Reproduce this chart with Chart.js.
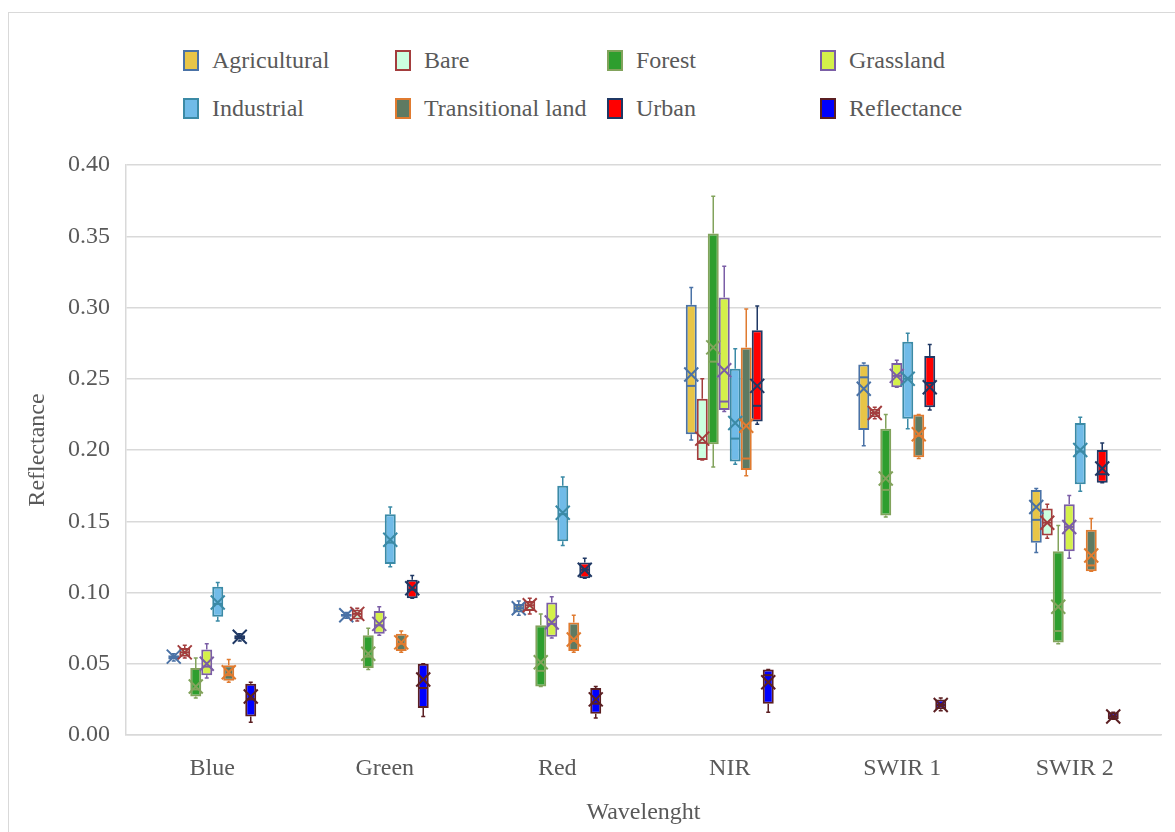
<!DOCTYPE html>
<html>
<head>
<meta charset="utf-8">
<script src="https://cdn.jsdelivr.net/npm/chart.js@4.4.1/dist/chart.umd.min.js"></script>
<style>
  body { margin: 0; background: #fff; }
  #wrap { position: relative; width: 1175px; height: 832px; overflow: hidden; }
  #frame { position: absolute; left: 8px; top: 12px; width: 1200px; height: 900px; border: 1px solid #d9d9d9; box-sizing: border-box; }
  #legend { position: absolute; left: 0; top: 0; width: 1175px; height: 140px; font-family: "Liberation Serif", "Times New Roman", serif; font-size: 24px; color: #595959; }
  .item { position: absolute; display: flex; align-items: center; height: 30px; white-space: nowrap; }
  .sw { width: 16px; height: 21px; box-sizing: border-box; border: 2px solid; margin-right: 13px; }
  canvas { position: absolute; left: 0; top: 0; }
</style>
</head>
<body>
<div id="wrap">
  <div id="frame"></div>
  <div id="legend"></div>
  <canvas id="chart" width="1175" height="832"></canvas>
</div>
<script>
// wavelength bands
const bands = ['Blue', 'Green', 'Red', 'NIR', 'SWIR 1', 'SWIR 2'];

// per band: [min, q1, median, q3, max, mean]
const agricultural = [
  [0.052, 0.053, 0.054, 0.056, 0.057, 0.055],
  [0.082, 0.083, 0.084, 0.085, 0.086, 0.084],
  [0.084, 0.086, 0.089, 0.092, 0.094, 0.089],
  [0.207, 0.211, 0.245, 0.302, 0.314, 0.253],
  [0.203, 0.214, 0.251, 0.260, 0.261, 0.243],
  [0.128, 0.135, 0.151, 0.172, 0.173, 0.160]
];
const bare = [
  [0.054, 0.055, 0.058, 0.061, 0.063, 0.058],
  [0.080, 0.081, 0.085, 0.088, 0.089, 0.085],
  [0.085, 0.087, 0.091, 0.094, 0.096, 0.091],
  [0.193, 0.193, 0.205, 0.236, 0.250, 0.208],
  [0.222, 0.223, 0.226, 0.229, 0.230, 0.226],
  [0.138, 0.140, 0.149, 0.159, 0.162, 0.149]
];
const forest = [
  [0.026, 0.027, 0.032, 0.047, 0.054, 0.034],
  [0.046, 0.047, 0.055, 0.070, 0.075, 0.057],
  [0.034, 0.034, 0.045, 0.077, 0.085, 0.051],
  [0.188, 0.204, 0.262, 0.352, 0.378, 0.272],
  [0.153, 0.154, 0.172, 0.215, 0.225, 0.180],
  [0.064, 0.065, 0.073, 0.129, 0.147, 0.090]
];
const grassland = [
  [0.040, 0.042, 0.048, 0.060, 0.064, 0.050],
  [0.070, 0.071, 0.077, 0.087, 0.090, 0.078],
  [0.068, 0.069, 0.078, 0.093, 0.097, 0.079],
  [0.227, 0.228, 0.234, 0.307, 0.329, 0.256],
  [0.244, 0.244, 0.252, 0.261, 0.263, 0.252],
  [0.124, 0.129, 0.146, 0.162, 0.168, 0.146]
];
const industrial = [
  [0.080, 0.083, 0.092, 0.104, 0.107, 0.093],
  [0.118, 0.120, 0.135, 0.155, 0.160, 0.137],
  [0.133, 0.136, 0.155, 0.175, 0.181, 0.156],
  [0.190, 0.192, 0.208, 0.257, 0.271, 0.219],
  [0.215, 0.222, 0.250, 0.276, 0.282, 0.250],
  [0.171, 0.176, 0.199, 0.219, 0.223, 0.200]
];
const transitional = [
  [0.037, 0.038, 0.042, 0.049, 0.053, 0.044],
  [0.058, 0.059, 0.064, 0.071, 0.073, 0.065],
  [0.058, 0.059, 0.066, 0.079, 0.084, 0.067],
  [0.182, 0.186, 0.194, 0.272, 0.299, 0.217],
  [0.194, 0.195, 0.210, 0.225, 0.225, 0.211],
  [0.115, 0.115, 0.119, 0.144, 0.152, 0.126]
];
const urban = [
  [0.066, 0.067, 0.069, 0.070, 0.071, 0.069],
  [0.096, 0.096, 0.102, 0.109, 0.112, 0.103],
  [0.110, 0.110, 0.116, 0.121, 0.124, 0.116],
  [0.218, 0.220, 0.231, 0.284, 0.301, 0.245],
  [0.228, 0.230, 0.247, 0.266, 0.274, 0.244],
  [0.177, 0.177, 0.183, 0.200, 0.205, 0.187]
];
const reflectance = [
  [0.009, 0.013, 0.025, 0.036, 0.037, 0.027],
  [0.013, 0.019, 0.033, 0.050, 0.050, 0.039],
  [0.012, 0.015, 0.022, 0.033, 0.034, 0.025],
  [0.016, 0.022, 0.042, 0.046, 0.046, 0.037],
  [0.017, 0.018, 0.021, 0.025, 0.026, 0.021],
  [0.011, 0.011, 0.013, 0.016, 0.016, 0.013]
];

const yTicks = [0, 0.05, 0.10, 0.15, 0.20, 0.25, 0.30, 0.35, 0.40];

const series = [
  { name: 'Agricultural', stats: agricultural, fill: '#e8c547', line: '#4a72a6' },
  { name: 'Bare', stats: bare, fill: '#ccffe0', line: '#a33d3d' },
  { name: 'Forest', stats: forest, fill: '#2e9e2e', line: '#82a35c' },
  { name: 'Grassland', stats: grassland, fill: '#d4f04a', line: '#7b5ea6' },
  { name: 'Industrial', stats: industrial, fill: '#70bbe8', line: '#3b8aa6' },
  { name: 'Transitional land', stats: transitional, fill: '#5e7a62', line: '#e07b30' },
  { name: 'Urban', stats: urban, fill: '#ff0000', line: '#1f3864' },
  { name: 'Reflectance', stats: reflectance, fill: '#0000ff', line: '#5b1f22' }
];

// legend
const legend = document.getElementById('legend');
const colX = [183, 395, 607, 820];
const rowY = [45, 93];
series.forEach(function(s, i) {
  let el = document.createElement('div');
  el.className = 'item';
  el.style.left = colX[i % 4] + 'px';
  el.style.top = rowY[Math.floor(i / 4)] + 'px';
  el.innerHTML = '<span class="sw" style="background:' + s.fill + ';border-color:' + s.line + '"></span>' + s.name;
  legend.appendChild(el);
});

// whiskers, median and mean marker on top of the floating bars
const boxParts = {
  id: 'boxParts',
  afterDatasetsDraw(chart) {
    const ctx = chart.ctx;
    const y = chart.scales.y;
    chart.data.datasets.forEach(function(ds, i) {
      const meta = chart.getDatasetMeta(i);
      meta.data.forEach(function(bar, j) {
        const st = ds.stats[j];
        const x = bar.x;
        const half = bar.width / 2;
        ctx.save();
        ctx.strokeStyle = ds.borderColor;
        ctx.lineWidth = 1.5;
        ctx.beginPath();
        ctx.moveTo(x, y.getPixelForValue(st[3]));
        ctx.lineTo(x, y.getPixelForValue(st[4]));
        ctx.moveTo(x, y.getPixelForValue(st[1]));
        ctx.lineTo(x, y.getPixelForValue(st[0]));
        ctx.moveTo(x - 2, y.getPixelForValue(st[4]));
        ctx.lineTo(x + 2, y.getPixelForValue(st[4]));
        ctx.moveTo(x - 2, y.getPixelForValue(st[0]));
        ctx.lineTo(x + 2, y.getPixelForValue(st[0]));
        ctx.stroke();
        ctx.lineWidth = 2;
        ctx.beginPath();
        const my = y.getPixelForValue(st[2]);
        ctx.moveTo(x - half + 1, my);
        ctx.lineTo(x + half - 1, my);
        ctx.stroke();
        const cy = y.getPixelForValue(st[5]);
        const r = 7;
        ctx.beginPath();
        ctx.moveTo(x - r, cy - r);
        ctx.lineTo(x + r, cy + r);
        ctx.moveTo(x + r, cy - r);
        ctx.lineTo(x - r, cy + r);
        ctx.stroke();
        ctx.restore();
      });
    });
  }
};

const textColor = '#595959';
const serif = '"Liberation Serif", "Times New Roman", serif';

new Chart(document.getElementById('chart'), {
  type: 'bar',
  data: {
    labels: bands,
    datasets: series.map(function(s) {
      return {
        label: s.name,
        data: s.stats.map(function(st) { return [st[1], st[3]]; }),
        stats: s.stats,
        backgroundColor: s.fill,
        borderColor: s.line,
        borderWidth: 2,
        borderSkipped: false,
        categoryPercentage: 0.51,
        barPercentage: 1.0
      };
    })
  },
  options: {
    responsive: false,
    animation: false,
    layout: { padding: { left: 0, top: 165, right: 14, bottom: 0 } },
    plugins: { legend: { display: false }, tooltip: { enabled: false } },
    scales: {
      x: {
        grid: { display: false, drawTicks: false },
        border: { display: true, color: '#d9d9d9', width: 1.5 },
        ticks: { color: textColor, font: { family: serif, size: 24 }, padding: 19 },
        title: { display: true, text: 'Wavelenght', color: textColor, font: { family: serif, size: 24 }, padding: { top: 0, bottom: 5 } },
        afterFit: function(scale) { scale.height = 97; }
      },
      y: {
        min: 0,
        max: 0.4,
        afterBuildTicks: function(scale) { scale.ticks = yTicks.map(function(v) { return { value: v }; }); },
        grid: { color: '#d9d9d9', lineWidth: 1.5, drawTicks: false },
        border: { display: true, color: '#d9d9d9', width: 1.5 },
        ticks: { color: textColor, font: { family: serif, size: 24 }, padding: 16, callback: function(v) { return v.toFixed(2); } },
        title: { display: true, text: 'Reflectance', color: textColor, font: { family: serif, size: 24 }, padding: { top: 23, bottom: 0 } },
        afterFit: function(scale) { scale.width = 126; }
      }
    }
  },
  plugins: [boxParts]
});
</script>
</body>
</html>
